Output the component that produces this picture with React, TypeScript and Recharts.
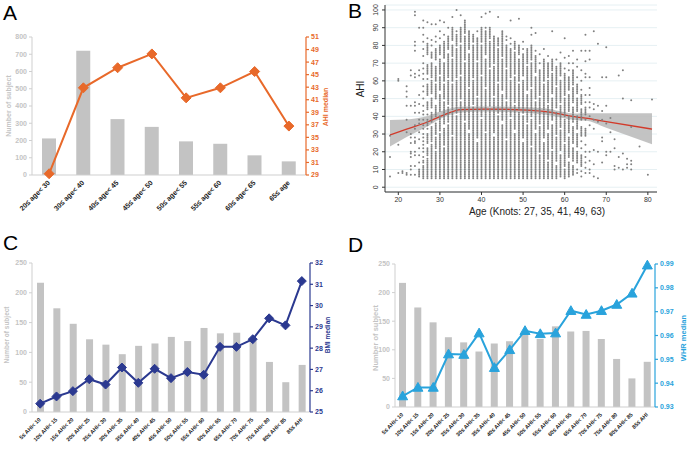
import React from "react";
import {
  ComposedChart,
  Bar,
  Line,
  Area,
  Scatter,
  XAxis,
  YAxis,
  CartesianGrid,
} from "recharts";

// ---- panel A
const ageGroups = [
  "20≤ age< 30",
  "30≤ age< 40",
  "40≤ age< 45",
  "45≤ age< 50",
  "50≤ age< 55",
  "55≤ age< 60",
  "60≤ age< 65",
  "65≤ age",
];
const ageGroupCounts = [212, 721, 324, 279, 195, 181, 114, 79];
const ahiMedian = [29.2, 42.9, 46.1, 48.3, 41.3, 42.9, 45.5, 36.8];

// ---- panels C & D
const ahiGroups = [
  "5≤ AHI< 10",
  "10≤ AHI< 15",
  "15≤ AHI< 20",
  "20≤ AHI< 25",
  "25≤ AHI< 30",
  "30≤ AHI< 35",
  "35≤ AHI< 40",
  "40≤ AHI< 45",
  "45≤ AHI< 50",
  "50≤ AHI< 55",
  "55≤ AHI< 60",
  "60≤ AHI< 65",
  "65≤ AHI< 70",
  "70≤ AHI< 75",
  "75≤ AHI< 80",
  "80≤ AHI< 85",
  "85≤ AHI",
];
const ahiGroupCounts = [217, 174, 148, 122, 113, 97, 111, 115, 126, 119, 141, 132, 133, 119, 84, 50, 79];
const bmiMedian = [25.39, 25.73, 25.98, 26.54, 26.29, 27.09, 26.37, 27.03, 26.59, 26.88, 26.75, 28.06, 28.06, 28.42, 29.4, 29.07, 31.15];
const whrMedian = [0.9346, 0.9382, 0.9382, 0.9522, 0.952, 0.961, 0.9465, 0.954, 0.962, 0.9607, 0.961, 0.9704, 0.9688, 0.9704, 0.973, 0.9777, 0.9895];

// ---- panel B: AHI values seen in each age column ("a-b" = every integer from a to b)
const scatterAges = [
  18, 20, 21, 22, 23, 24, 25, 26, 27, 28, 29, 30, 31, 32, 33, 34, 35, 36, 37, 38, 39, 40,
  41, 42, 43, 44, 45, 46, 47, 48, 49, 50, 51, 52, 53, 54, 55, 56, 57, 58, 59, 60, 61, 62,
  63, 64, 65, 66, 67, 68, 69, 70, 71, 72, 73, 74, 75, 76, 78, 80, 81,
];
const scatterRuns = [
  "6 17 29",
  "8 24 60 61",
  "8 9",
  "7 8 31 38 46 51 54 57",
  "7 10 12 17 19 20 25 28 30 46 63 66",
  "7 12 18 20 25 26 28 33 35 42 46 48 62 64 77 80 82 97 99",
  "6-10 14 18 22 27 31 36 38 42 47 52 63 66 90",
  "5-12 14 15 17 20 22 24 26 28 30 33 35 38 41 43 46 50 54 57 61 64 67 70 74 78 82 86 90 94",
  "5-16 18-22 25-30 33 35-38 41 44-48 52-58 61 64-69 75-81 84 93",
  "5-24 26-34 37-42 45-50 53-60 62-70 73-76 80 83 92",
  "5-20 22-28 30-36 40-46 50-58 60-68 72-78 82 85 92",
  "5-30 32-40 43-52 55-62 64-72 75-80 84 88 94",
  "5-22 24-33 36-48 50-58 60-70 73-82 86 93",
  "5-35 37-45 47-60 62-75 78-85 90",
  "5-28 30-42 44-58 60-72 74-80 83-90 96",
  "5-40 42-60 62-78 80-86 88 100",
  "5-48 50-62 64-80 82-90 97",
  "5-36 38-70 72-85 87-94",
  "5-30 33-55 57-75 78-88",
  "5-45 47-60 62-80 82-86",
  "5-25 28-50 52-70 72-84 88",
  "5-38 40-62 64-80 82-90 96",
  "5-30 32-55 57-72 75-88 90 98",
  "5-44 46-66 68-82 84-90 99",
  "5-28 31-50 52-68 70-85",
  "5-40 42-58 60-78 80-84 96",
  "5-35 38-52 55-72 74-88",
  "5-26 28-48 50-66 68-80 83 85",
  "5-38 40-60 62-78 81 84 94",
  "5-30 33-46 48-62 64-76 78-82",
  "5-42 44-58 60-72 75-80 95",
  "5-25 28-40 42-60 63-75 78 82",
  "5-35 37-52 55-68 70-78",
  "5-22 24-38 40-55 57-70 72-80 86 90",
  "5-30 33-48 50-62 65-74 77 87",
  "5-18 20-34 36-50 52-66 70 75",
  "5-25 28-42 44-58 60-72 78",
  "5-14 16-30 33-46 48-60 62-70 74",
  "5-20 22-35 38-50 53-64 66-72 88",
  "5-12 15-28 30-42 45-56 58-68 72",
  "6-18 21-32 34-46 48-60 63-70 76",
  "5-10 12-24 26-38 40-50 52-64 67 73 84",
  "6-14 17-28 31-40 43-52 55-62 66 70 74",
  "7-12 15-22 25-34 37-45 48-56 58-66 70 77",
  "8 10 14-20 23-30 33-40 43-50 53-58 62 68 72",
  "6 9 12-18 22 26 29-34 38-44 47-52 55 60 66 77",
  "8 11 14 17 20 24 29-33 38 41-45 48 52 62 64 71 77 86",
  "8 10 15 20 35 40 45 48 52 56 62 72 77",
  "6 13 21 33 38 44 47 88",
  "5 20 37 46 81",
  "14 26 28 38 43 62",
  "18 20 36 46 62 79",
  "20 31 39",
  "10 12 22 27",
  "11 17 63",
  "10 19 50 66",
  "11 13 16",
  "10 13 15 34 49",
  "23",
  "7",
  "49.5",
];

// restricted cubic spline fit with 95% CI
const fitAges = [18, 22, 27, 31, 35, 41, 49, 55, 63, 65, 70, 81];
const fitAhi = [29.5, 32.8, 36.8, 40.8, 43.8, 44.1, 43.7, 42.8, 39.6, 39.0, 37.0, 32.8];
const ciLow = [22.9, 28.3, 34.3, 39.6, 42.2, 42.7, 42.1, 41.0, 37.8, 37.6, 33.5, 24.2];
const ciHigh = [37.9, 38.2, 40.2, 43.4, 45.4, 45.5, 45.3, 44.6, 41.6, 41.7, 41.7, 41.7];

const FONT = "'Liberation Sans', Arial, sans-serif";
const GRAY_TEXT = "#c4c4c4";
const BAR = "#c3c3c3";

const expandRuns = (s: string) =>
  s.split(" ").flatMap((tok) => {
    if (tok.includes("-")) {
      const [a, b] = tok.split("-").map(Number);
      const out: number[] = [];
      for (let v = a; v <= b; v++) out.push(v);
      return out;
    }
    return [Number(tok)];
  });

const scatterData = scatterAges.flatMap((age, i) =>
  expandRuns(scatterRuns[i]).map((ahi) => ({ age, ahi }))
);
const fitData = fitAges.map((age, i) => ({
  age,
  ahi: fitAhi[i],
  range: [ciLow[i], ciHigh[i]],
}));

const SlantTick = (props: any) => {
  const { x, y, payload, fontSize } = props;
  return (
    <text
      x={x}
      y={y}
      transform={`rotate(-45 ${x} ${y})`}
      textAnchor="end"
      dominantBaseline="middle"
      fontSize={fontSize}
      fontWeight="bold"
      fill="#222"
      fontFamily={FONT}
    >
      {payload.value}
    </text>
  );
};

const diamond = (color: string, r: number) => (p: any) => {
  const { cx, cy, index } = p;
  return (
    <path
      key={`d${index}`}
      d={`M${cx},${cy - r} L${cx + r},${cy} L${cx},${cy + r} L${cx - r},${cy} Z`}
      fill={color}
      stroke={color}
    />
  );
};

const triangle = (color: string, r: number) => (p: any) => {
  const { cx, cy, index } = p;
  return (
    <path
      key={`t${index}`}
      d={`M${cx},${cy - r} L${cx + r},${cy + r * 0.75} L${cx - r},${cy + r * 0.75} Z`}
      fill={color}
      stroke={color}
    />
  );
};

interface BarLineProps {
  categories: string[];
  counts: number[];
  medians: number[];
  width: number;
  height: number;
  margin: { top: number; right: number; bottom: number; left: number };
  leftMax: number;
  leftTicks: number[];
  rightDomain: [number, number];
  rightTicks: number[];
  rightFormat?: (v: number) => string;
  color: string;
  barSize: number;
  tickFont: number;
  xHeight: number;
  dot: (p: any) => React.ReactElement;
}

const BarLinePanel = (p: BarLineProps) => {
  const data = p.categories.map((name, i) => ({
    name,
    count: p.counts[i],
    median: p.medians[i],
  }));
  return (
    <ComposedChart width={p.width} height={p.height} data={data} margin={p.margin}>
      <XAxis
        dataKey="name"
        interval={0}
        height={p.xHeight}
        tickLine={false}
        tickSize={0}
        tickMargin={7}
        stroke="#cfcfcf"
        tick={(t: any) => <SlantTick {...t} fontSize={p.tickFont} />}
      />
      <YAxis
        yAxisId="left"
        domain={[0, p.leftMax]}
        ticks={p.leftTicks}
        interval={0}
        width={30}
        tickSize={3}
        stroke="#cfcfcf"
        tick={{ fill: GRAY_TEXT, fontSize: 7, fontWeight: "bold", fontFamily: FONT }}
      />
      <YAxis
        yAxisId="right"
        orientation="right"
        domain={p.rightDomain}
        ticks={p.rightTicks}
        interval={0}
        width={30}
        tickSize={3}
        stroke={p.color}
        strokeWidth={1.2}
        tickFormatter={p.rightFormat}
        tick={{ fill: p.color, fontSize: 7, fontWeight: "bold", fontFamily: FONT }}
      />
      <Bar yAxisId="left" dataKey="count" fill={BAR} barSize={p.barSize} isAnimationActive={false} />
      <Line
        yAxisId="right"
        dataKey="median"
        type="linear"
        stroke={p.color}
        strokeWidth={2}
        dot={p.dot}
        isAnimationActive={false}
      />
    </ComposedChart>
  );
};

const VertTick = (props: any) => {
  const { x, y, payload } = props;
  return (
    <text
      x={x - 2}
      y={y}
      transform={`rotate(-90 ${x - 2} ${y})`}
      textAnchor="middle"
      fontSize={7}
      fill="#333"
      fontFamily={FONT}
    >
      {payload.value}
    </text>
  );
};

const dotShape = (p: any) => <circle cx={p.cx} cy={p.cy} r={1.0} fill="#808080" />;

const ScatterPanel = () => (
  <ComposedChart width={344} height={225} margin={{ top: 5, right: 32, bottom: 15, left: 20 }}>
    <CartesianGrid vertical={false} stroke="#e6f0f3" />
    <XAxis
      type="number"
      dataKey="age"
      domain={[16.8, 82.2]}
      ticks={[20, 30, 40, 50, 60, 70, 80]}
      allowDataOverflow
      height={18}
      tickSize={3}
      stroke="#333"
      tick={{ fill: "#333", fontSize: 7, fontFamily: FONT }}
    />
    <YAxis
      type="number"
      domain={[-2.7, 102.8]}
      ticks={[0, 10, 20, 30, 40, 50, 60, 70, 80, 90, 100]}
      interval={0}
      allowDataOverflow
      width={20}
      tickSize={3}
      stroke="#333"
      tick={<VertTick />}
    />
    <Scatter data={scatterData} dataKey="ahi" shape={dotShape} isAnimationActive={false} />
    <Area
      data={fitData}
      dataKey="range"
      type="monotone"
      fill="#bdbdbd"
      fillOpacity={0.9}
      stroke="none"
      isAnimationActive={false}
    />
    <Line
      data={fitData}
      dataKey="ahi"
      type="monotone"
      stroke="#d23a2a"
      strokeWidth={1.3}
      dot={false}
      isAnimationActive={false}
    />
  </ComposedChart>
);

const App = () => (
  <div
    style={{
      position: "absolute",
      left: 0,
      top: 0,
      width: 689,
      height: 449,
      background: "#fff",
      overflow: "hidden",
      fontFamily: FONT,
    }}
  >
    <div style={{ position: "absolute", left: 0, top: 0 }}>
      <BarLinePanel
        categories={ageGroups}
        counts={ageGroupCounts}
        medians={ahiMedian}
        width={345}
        height={230}
        margin={{ top: 37, right: 9, bottom: 5, left: 2 }}
        leftMax={800}
        leftTicks={[0, 100, 200, 300, 400, 500, 600, 700, 800]}
        rightDomain={[29, 51]}
        rightTicks={[29, 31, 33, 35, 37, 39, 41, 43, 45, 47, 49, 51]}
        color="#e8692a"
        barSize={14}
        tickFont={7}
        xHeight={50}
        dot={diamond("#e8692a", 5)}
      />
    </div>
    <div style={{ position: "absolute", left: 345, top: 0 }}>
      <ScatterPanel />
    </div>
    <div style={{ position: "absolute", left: 0, top: 225 }}>
      <BarLinePanel
        categories={ahiGroups}
        counts={ahiGroupCounts}
        medians={bmiMedian}
        width={345}
        height={224}
        margin={{ top: 38, right: 5, bottom: 3, left: 2 }}
        leftMax={250}
        leftTicks={[0, 50, 100, 150, 200, 250]}
        rightDomain={[25, 32]}
        rightTicks={[25, 26, 27, 28, 29, 30, 31, 32]}
        color="#2b3990"
        barSize={7}
        tickFont={5.5}
        xHeight={34}
        dot={diamond("#2b3990", 4.5)}
      />
    </div>
    <div style={{ position: "absolute", left: 345, top: 225 }}>
      <BarLinePanel
        categories={ahiGroups}
        counts={ahiGroupCounts}
        medians={whrMedian}
        width={344}
        height={224}
        margin={{ top: 39, right: 4, bottom: 4, left: 20 }}
        leftMax={250}
        leftTicks={[0, 50, 100, 150, 200, 250]}
        rightDomain={[0.93, 0.99]}
        rightTicks={[0.93, 0.94, 0.95, 0.96, 0.97, 0.98, 0.99]}
        rightFormat={(v: number) => v.toFixed(2)}
        color="#29a3dc"
        barSize={7}
        tickFont={5.5}
        xHeight={38}
        dot={triangle("#29a3dc", 5)}
      />
    </div>
    <svg
      width={689}
      height={449}
      style={{ position: "absolute", left: 0, top: 0, pointerEvents: "none" }}
      fontFamily={FONT}
    >
      <text x={3} y={20} fontSize={21}>A</text>
      <text x={348} y={18} fontSize={21}>B</text>
      <text x={3} y={250} fontSize={21}>C</text>
      <text x={348} y={252} fontSize={21}>D</text>

      <text transform="translate(11 106) rotate(-90)" textAnchor="middle" fontSize={7} fill={GRAY_TEXT} fontWeight="bold">Number of subject</text>
      <text transform="translate(328 107) rotate(-90)" textAnchor="middle" fontSize={7} fill="#e8692a" fontWeight="bold">AHI median</text>

      <text transform="translate(364 89) rotate(-90)" textAnchor="middle" fontSize={10} fill="#222">AHI</text>
      <text x={537} y={215} textAnchor="middle" fontSize={10} fill="#222">Age (Knots: 27, 35, 41, 49, 63)</text>

      <text transform="translate(9 335) rotate(-90)" textAnchor="middle" fontSize={6.5} fill={GRAY_TEXT} fontWeight="bold">Number of subject</text>
      <text transform="translate(330 335) rotate(-90)" textAnchor="middle" fontSize={6.5} fill="#2b3990" fontWeight="bold">BMI median</text>

      <text transform="translate(378 338) rotate(-90)" textAnchor="middle" fontSize={7.5} fill={GRAY_TEXT} fontWeight="bold">Number of subject</text>
      <text transform="translate(686 338) rotate(-90)" textAnchor="middle" fontSize={7.5} fill="#29a3dc" fontWeight="bold">WHR median</text>
    </svg>
  </div>
);

export default App;
